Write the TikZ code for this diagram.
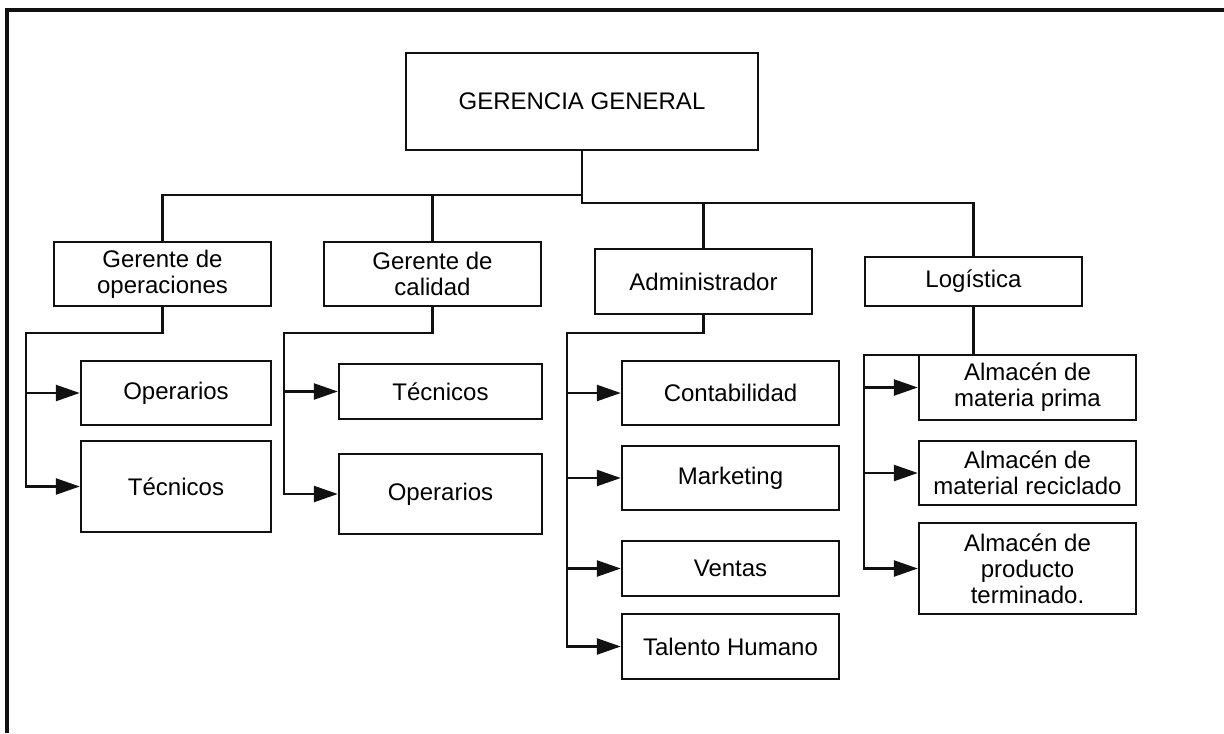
\documentclass[tikz,border=0pt]{standalone}
\usepackage{fontspec}
\setmainfont{Liberation Sans}
\usetikzlibrary{arrows.meta}
\definecolor{Trazo}{HTML}{111111}
\tikzset{
  caja/.style={draw=Trazo, line width=1.2pt, inner sep=0pt, align=center,
    font=\fontsize{12}{13}\selectfont},
  enlace/.style={draw=Trazo, line width=1.2pt},
  flecha/.style={enlace, -{Triangle[length=12pt,width=8pt]}}
}

\begin{document}
\begin{tikzpicture}[x=0.5pt,y=-0.5pt]
  \useasboundingbox (0,0) rectangle (1224,733);
  % marco exterior
  \draw[Trazo, line width=1.6pt] (1224,10) -- (7,10) -- (7,733);

  % nivel superior
  \node[caja, minimum width=176pt, minimum height=48.5pt] (gerencia) at (582,101.5) {GERENCIA GENERAL};

  % gerencias
  \node[caja, minimum width=108.5pt, minimum height=32pt] (gop) at (162.5,274) {Gerente de\\operaciones};
  \node[caja, minimum width=108.5pt, minimum height=32pt] (gcal) at (432.5,274) {Gerente de\\calidad};
  \node[caja, minimum width=108.5pt, minimum height=32.5pt] (adm) at (703.5,281.5) {Administrador};
  \node[caja, minimum width=108.5pt, minimum height=24.5pt] (logi) at (973.5,281.5) {Logística};

  % areas
  \node[caja, minimum width=95pt, minimum height=32pt] (opOper) at (176,393) {Operarios};
  \node[caja, minimum width=95pt, minimum height=45.5pt] (opTec) at (176,486.5) {Técnicos};
  \node[caja, minimum width=101.5pt, minimum height=27.5pt] (calTec) at (440.5,391.5) {Técnicos};
  \node[caja, minimum width=101.5pt, minimum height=40pt] (calOper) at (440.5,494) {Operarios};
  \node[caja, minimum width=108.5pt, minimum height=32pt] (conta) at (730.5,393) {Contabilidad};
  \node[caja, minimum width=108.5pt, minimum height=32pt] (mkt) at (730.5,478) {Marketing};
  \node[caja, minimum width=108.5pt, minimum height=27.5pt] (ventas) at (730.5,568.5) {Ventas};
  \node[caja, minimum width=108.5pt, minimum height=32.5pt] (talento) at (730.5,646.5) {Talento Humano};
  \node[caja, minimum width=108.5pt, minimum height=32.5pt] (almA) at (1027.5,387.5) {Almacén de\\materia prima};
  \node[caja, minimum width=108.5pt, minimum height=32pt] (almB) at (1027.5,473) {Almacén de\\material reciclado};
  \node[caja, minimum width=108.5pt, minimum height=45.5pt] (almC) at (1027.5,568.5) {Almacén de\\producto\\terminado.};

  % barras de reparto
  \coordinate (busIzq) at (582,195);
  \coordinate (busDer) at (582,203);
  \coordinate (cOp) at (26,333);
  \coordinate (cCal) at (284,333);
  \coordinate (cAdm) at (567,333);
  \coordinate (cLog) at (864,355);

  \draw[enlace] (gerencia.south) |- (busIzq) -| (gop.north);
  \draw[enlace] (busIzq) -| (gcal.north);
  \draw[enlace] (gerencia.south) |- (busDer) -| (logi.north);
  \draw[enlace] (busDer) -| (adm.north);

  % operaciones
  \draw[flecha] (gop.south) |- (cOp) |- (opTec.west);
  \draw[flecha] (cOp |- opOper.west) -- (opOper.west);

  % calidad
  \draw[flecha] (gcal.south) |- (cCal) |- (calOper.west);
  \draw[flecha] (cCal |- calTec.west) -- (calTec.west);

  % administracion
  \draw[flecha] (adm.south) |- (cAdm) |- (talento.west);
  \foreach \area in {conta,mkt,ventas}
    \draw[flecha] (cAdm |- \area.west) -- (\area.west);

  % logistica
  \draw[flecha] (logi.south) |- (cLog) |- (almC.west);
  \foreach \area in {almA,almB}
    \draw[flecha] (cLog |- \area.west) -- (\area.west);
\end{tikzpicture}
\end{document}
